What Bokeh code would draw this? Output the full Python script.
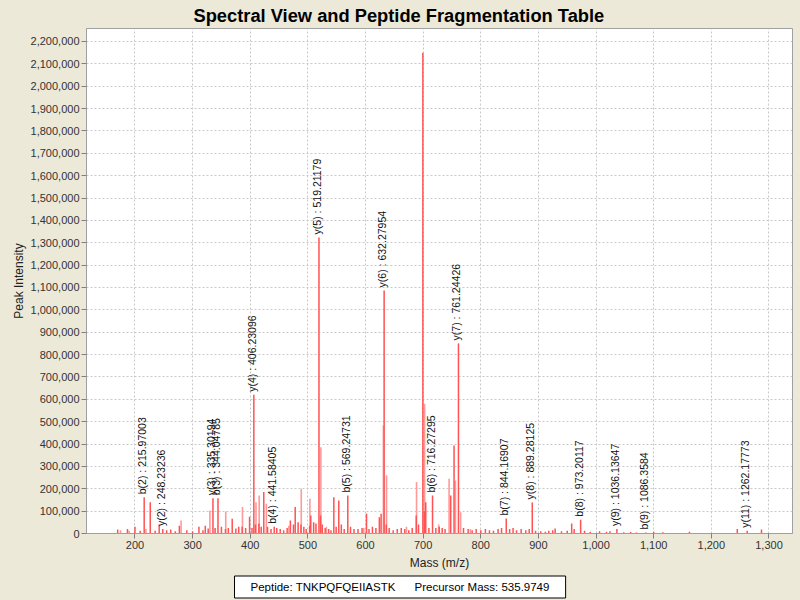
import math
from bokeh.plotting import figure
from bokeh.models import (ColumnDataSource, NumeralTickFormatter, FixedTicker, Range1d,
                          GlobalInlineStyleSheet, Title)
from bokeh.core.properties import value
from bokeh.embed import file_html
from bokeh.resources import INLINE

# ---------------- data ----------------
title_text = "Spectral View and Peptide Fragmentation Table"
x_label = "Mass (m/z)"
y_label = "Peak Intensity"
peptide_text = "Peptide: TNKPQFQEIIASTK"
precursor_text = "Precursor Mass: 535.9749"

x_ticks = [200, 300, 400, 500, 600, 700, 800, 900, 1000, 1100, 1200, 1300]
y_ticks = [i * 100000 for i in range(0, 23)]

# main (darker) peaks
peak_mz = [170, 187, 200, 209, 215.97, 226.5, 235, 242, 248.23, 255, 262, 270, 277, 290, 300,
           311, 318, 322, 327, 335.30, 339, 344.05, 350, 357, 362, 368.7, 375, 380, 386, 392,
           398.8, 403, 406.23, 409, 415, 419, 423.5, 430, 436, 441.58, 446, 452, 458, 464, 469.6,
           475, 478, 483, 488, 493, 497, 503, 505, 510, 514, 519.21, 522, 525, 530, 536, 540,
           545, 549, 553.6, 558, 563, 569.25, 574, 580, 587, 594, 601.7, 606, 612, 618, 624, 627,
           632.28, 636, 641, 648, 655, 662, 668, 675, 681, 688, 692, 699.5, 702, 704.5, 710,
           716.27, 722, 728, 733, 738, 747.8, 753.6, 761.24, 770, 778, 785, 792, 800, 808, 815,
           822, 830, 836, 844.17, 850, 856, 862, 870, 878, 884, 889.28, 895, 904, 912, 918,
           924.7, 929, 940, 950, 957.7, 962, 973.2, 980, 990, 1006, 1018, 1024, 1036.14, 1048,
           1060, 1070, 1086.36, 1100, 1116, 1162, 1245, 1262.18, 1287]
peak_int = [18000, 20000, 30000, 12000, 162000, 140000, 12000, 40000, 20000, 15000, 18000, 10000,
            35000, 15000, 10000, 30000, 15000, 35000, 22000, 158000, 25000, 158000, 30000, 20000,
            25000, 66000, 22000, 30000, 30000, 25000, 75000, 25000, 620000, 40000, 45000, 30000,
            185000, 30000, 20000, 30000, 25000, 20000, 15000, 25000, 58000, 40000, 118000, 50000,
            40000, 30000, 20000, 35000, 80000, 50000, 45000, 1324000, 80000, 40000, 25000, 20000,
            15000, 162000, 30000, 148000, 40000, 20000, 170000, 30000, 20000, 20000, 25000, 88000,
            20000, 30000, 25000, 73000, 88000, 1087000, 40000, 25000, 15000, 20000, 25000, 20000,
            15000, 25000, 80000, 40000, 2150000, 100000, 140000, 25000, 170000, 25000, 30000,
            25000, 20000, 170000, 394000, 850000, 25000, 20000, 15000, 20000, 15000, 20000, 15000,
            12000, 20000, 25000, 67000, 20000, 25000, 15000, 20000, 15000, 20000, 139000, 12000,
            10000, 8000, 12000, 15000, 22000, 10000, 12000, 45000, 20000, 62000, 12000, 8000,
            10000, 8000, 10000, 20000, 6000, 7000, 5000, 5000, 8000, 6000, 8000, 20000, 12000,
            18000]

# lighter peaks
light_mz = [175, 190, 219, 280, 330, 357.5, 386.5, 410, 415.5, 428, 488.5, 503.5, 522.5, 631,
            636.5, 688.5, 702.5, 745, 756, 765, 467, 532, 597, 671, 727, 782]
light_int = [15000, 12000, 20000, 58000, 103000, 98000, 118000, 140000, 170000, 133000, 200000,
             155000, 386000, 483000, 260000, 230000, 580000, 245000, 237000, 95000, 35000,
             30000, 25000, 30000, 40000, 20000]

# annotated fragment ions
ion_mz = [215.97003, 248.23236, 335.30194, 344.04785, 406.23096, 441.58405, 519.21179, 569.24731,
          632.27954, 716.27295, 761.24426, 844.16907, 889.28125, 973.20117, 1036.13647,
          1086.3584, 1262.17773]
ion_int = [162000, 20000, 158000, 158000, 620000, 30000, 1324000, 170000, 1087000, 170000,
           850000, 67000, 139000, 62000, 20000, 5000, 12000]
ion_text = ["b(2) : 215.97003", "y(2) : 248.23236", "y(3) : 335.30194", "b(3) : 344.04785",
            "y(4) : 406.23096", "b(4) : 441.58405", "y(5) : 519.21179", "b(5) : 569.24731",
            "y(6) : 632.27954", "b(6) : 716.27295", "y(7) : 761.24426", "b(7) : 844.16907",
            "y(8) : 889.28125", "b(8) : 973.20117", "y(9) : 1036.13647", "b(9) : 1086.3584",
            "y(11) : 1262.17773"]

# ---------------- figure ----------------
BG = "#ECE9D8"
FONT = "Liberation Sans"

p = figure(width=800, height=600, output_backend="svg", toolbar_location=None,
           x_range=Range1d(115.9, 1340.8), y_range=Range1d(0, 2258000),
           min_border_left=86, min_border_right=8, min_border_top=28, min_border_bottom=67)
p.stylesheets = [GlobalInlineStyleSheet(css="html, body { background: #ECE9D8; margin: 0; }")]
p.background_fill_color = "white"
p.border_fill_color = BG
p.outline_line_color = "#A0A0A0"
p.outline_line_width = 1

p.title.text = title_text
p.title.align = "left"
p.title.offset = 107
p.title.text_font = FONT
p.title.text_font_size = "18.3px"
p.title.text_font_style = "bold"
p.title.text_color = "black"
p.title.standoff = 5

for ax in (p.xaxis, p.yaxis):
    ax.formatter = NumeralTickFormatter(format="0,0")
    ax.major_tick_in = 0
    ax.major_tick_out = 5
    ax.minor_tick_in = 0
    ax.minor_tick_out = 0
    ax.axis_line_color = "#A0A0A0"
    ax.major_tick_line_color = "#808080"
    ax.major_label_text_font = FONT
    ax.major_label_text_font_size = "11px"
    ax.major_label_text_color = "#333333"
    ax.axis_label_text_font = FONT
    ax.axis_label_text_font_size = "12px"
    ax.axis_label_text_font_style = "normal"
    ax.axis_label_text_color = "#222222"
    ax.major_label_standoff = 2

p.xaxis.ticker = FixedTicker(ticks=x_ticks)
p.yaxis.ticker = FixedTicker(ticks=y_ticks)
p.xaxis.axis_label = x_label
p.yaxis.axis_label = y_label
p.xaxis.axis_label_standoff = 4
p.yaxis.axis_label_standoff = 2

for g in (p.xgrid, p.ygrid):
    g.grid_line_color = "#C8C8C8"
    g.grid_line_dash = "2 2"
    g.grid_line_width = 1
p.xgrid.ticker = FixedTicker(ticks=x_ticks)
p.ygrid.ticker = FixedTicker(ticks=y_ticks)

light_src = ColumnDataSource(dict(mz=light_mz, inten=light_int))
main_src = ColumnDataSource(dict(mz=peak_mz, inten=peak_int))
p.segment(x0="mz", y0=0, x1="mz", y1="inten", source=light_src,
          line_color="#FF9A9A", line_width=1.6)
p.segment(x0="mz", y0=0, x1="mz", y1="inten", source=main_src,
          line_color="#FF5252", line_width=1.5)

ion_src = ColumnDataSource(dict(mz=ion_mz, inten=ion_int, label=ion_text))
p.text(x="mz", y="inten", text="label", source=ion_src, angle=math.pi / 2,
       text_align="left", text_baseline="middle", y_offset=-3, x_offset=-2,
       text_font=value(FONT), text_font_size=value("10.5px"), text_color="#111111")

# info box below the axis
NB = "\u00a0"
info = Title(text=peptide_text + NB * 6 + precursor_text, align="left", offset=148,
             text_font=FONT, text_font_size="11.5px", text_font_style="normal",
             text_color="black", background_fill_color="white",
             border_line_color="black", border_line_width=1,
             padding=dict(top=5, right=16, bottom=5, left=16), standoff=3)
p.add_layout(info, "below")

open("out.html", "w").write(file_html(p, INLINE))
